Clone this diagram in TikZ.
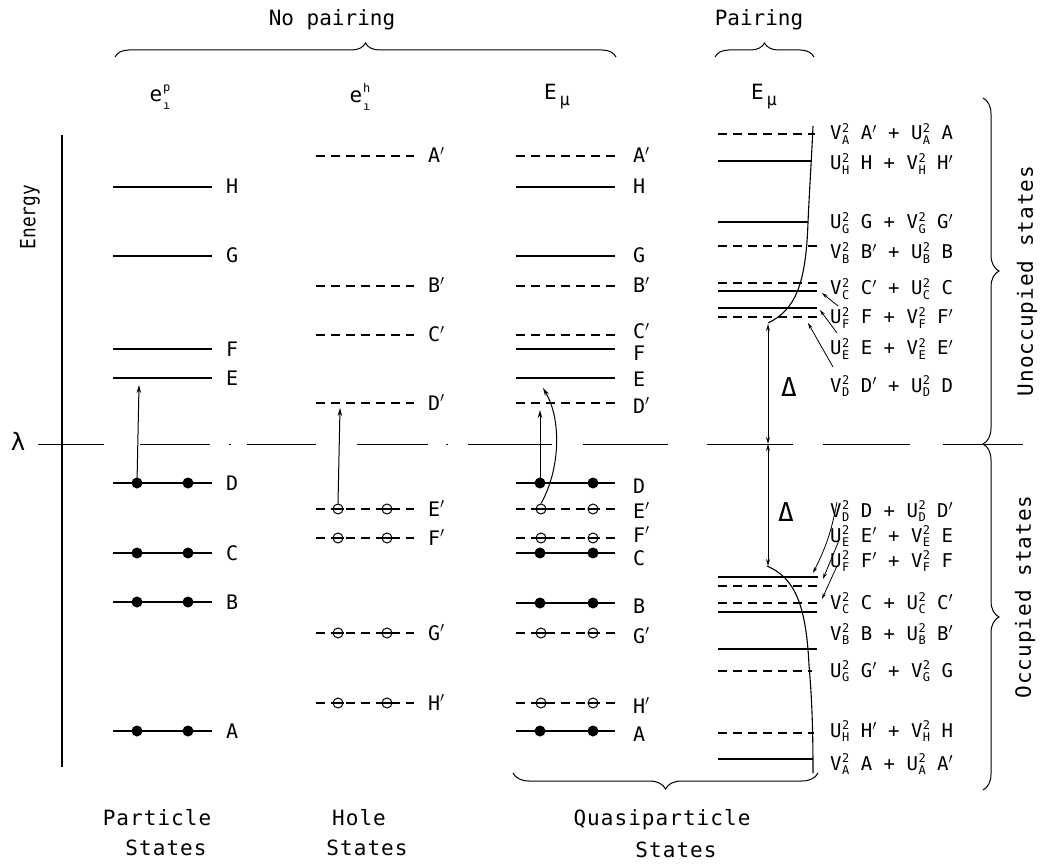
\documentclass[tikz,border=0pt]{standalone}
\usepackage{fontspec}
\setmainfont{DejaVu Sans Mono}
\usetikzlibrary{arrows.meta,decorations.pathreplacing}
\newcommand{\cf}[3]{#1\kern0.5pt\rlap{\raisebox{7.5pt}{\fontsize{12}{12}\selectfont #2}}\raisebox{-4.5pt}{\fontsize{12}{12}\selectfont #3}}
\newcommand{\hd}[2]{e\kern1pt\rlap{\raisebox{10pt}{\fontsize{12}{12}\selectfont #1}}\raisebox{-8pt}{\fontsize{12}{12}\selectfont #2}}
\newcommand{\VV}[1]{\cf{V}{2}{#1}}
\newcommand{\UU}[1]{\cf{U}{2}{#1}}
\newcommand{\Emu}{E\kern3pt\raisebox{-6pt}{\fontsize{17}{17}\selectfont μ}}
\tikzset{
  lev/.style={line width=1.2pt},
  dlev/.style={line width=1.1pt, dash pattern=on 9pt off 6pt},
  full/.style={circle, fill=black, inner sep=0pt, minimum size=11pt},
  hole/.style={circle, draw=black, line width=1pt, inner sep=0pt, minimum size=10pt},
  lab/.style={anchor=base west, inner sep=0pt, font=\fontsize{20}{24}\selectfont},
  plab/.style={anchor=base west, inner sep=0pt, font=\fontsize{19}{22}\selectfont},
  arr/.style={-{Stealth[length=8pt,width=4.5pt]}, line width=1pt},
  sarr/.style={-{Stealth[length=6pt,width=3.5pt]}, line width=0.8pt},
  darr/.style={{Stealth[length=7pt,width=4pt]}-{Stealth[length=7pt,width=4pt]}, line width=1pt},
  brc/.style={decorate, decoration={brace, amplitude=#1}, line width=1pt},
  brc/.default=14pt,
  hdr/.style={inner sep=0pt, font=\fontsize{21}{24}\selectfont},
  btm/.style={inner sep=0pt, font=\fontsize{21}{24}\selectfont\addfontfeature{LetterSpace=5}},
  vt/.style={inner sep=0pt, rotate=90, font=\fontsize{21}{24}\selectfont\addfontfeature{LetterSpace=5}},
  lamline/.style={line width=1pt},
  curve/.style={line width=1.1pt}
}
\begin{document}
\begin{tikzpicture}[x=1pt,y=-1pt]
\useasboundingbox (0,0) rectangle (1041,866);

% energy axis and lambda
\draw[line width=2.2pt] (62,135) coordinate (ax1) -- (62,767) coordinate (ax2);
\node[inner sep=0pt, rotate=90, font=\fontsize{21}{24}\selectfont] (energy) at (30,217) {\scalebox{0.85}[1]{Energy}};
\node[inner sep=0pt, font=\fontsize{24}{26}\selectfont] (lam) at (18,441) {λ};
\foreach \a/\b in {38/104,140/210,247/316,357/428,468/552,583/668,707/793,823/910,943/1023}
  \draw[lamline] (\a,444) -- (\b,444);
\foreach \a in {229,446} \draw[lamline] (\a,444) -- (\a+2,444);

% top headers and braces
\node[hdr] (nop) at (332,20) {No pairing};
\draw[brc] (115,57) coordinate (nb1) -- (616,57) coordinate (nb2);
\node[hdr] (pair) at (759,20) {Pairing};
\draw[brc] (715,57) coordinate (pb1) -- (814,57) coordinate (pb2);
\node[hdr] (h1) at (160,97) {\hd{p}{ı}};
\node[hdr] (h2) at (360,97) {\hd{h}{ı}};
\node[hdr] (h3) at (557,97) {\Emu};
\node[hdr] (h4) at (764,97) {\Emu};

% column 1: particle states
\foreach \y/\l in {187/H,256/G,349/F,378/E,483/D,553/C,602/B,731/A} {
  \draw[lev] (113,\y) -- (212,\y);
  \node[lab] (p\l) at (226,\y+7) {\l};
}
\foreach \y/\l in {483/D,553/C,602/B,731/A} {
  \node[full] (p\l1) at (137,\y) {};
  \node[full] (p\l2) at (188,\y) {};
}
\coordinate (pEt) at (139,385);
\draw[arr] (pD1.center) -- (pEt);

% column 2: hole states
\foreach \y/\l in {156/A,286/B,335/C,403/D,509/E,538/F,633/G,703/H} {
  \draw[dlev] (316,\y) -- (414,\y);
  \node[lab] (h\l) at (428,\y+7) {\l$'$};
}
\foreach \y/\l in {509/E,538/F,633/G,703/H} {
  \node[hole, fill=white] (h\l1) at (338,\y) {};
  \node[hole, fill=white] (h\l2) at (387,\y) {};
  \draw[line width=1.1pt] (h\l1.west) -- (h\l1.east) (h\l2.west) -- (h\l2.east);
}
\coordinate (hDt) at (340,408);
\draw[arr] (hE1.north) -- (hDt);

% column 3: quasiparticle states without pairing
\foreach \y/\l in {187/H,256/G,349/F,378/E,483/D,553/C,603/B,731/A}
  \draw[lev] (516,\y) -- (615,\y);
\foreach \y/\l in {156/A,286/B,335/C,403/D,509/E,538/F,633/G,703/H}
  \draw[dlev] (516,\y) -- (615,\y);
\foreach \y/\l in {156/A$'$,187/H,256/G,286/B$'$,332/C$'$,354/F,379/E,406/D$'$,486/D,511/E$'$,535/F$'$,558/C,606/B,636/G$'$,706/H$'$,734/A}
  \node[lab] (q\y) at (633,\y+7) {\l};
\foreach \y/\l in {483/D,553/C,603/B,731/A} {
  \node[full] (q\l1) at (540,\y) {};
  \node[full] (q\l2) at (593,\y) {};
}
\foreach \y/\l in {509/E,538/F,633/G,703/H} {
  \node[hole, fill=white] (qh\l1) at (541,\y) {};
  \node[hole, fill=white] (qh\l2) at (593,\y) {};
  \draw[line width=1.1pt] (qh\l1.west) -- (qh\l1.east) (qh\l2.west) -- (qh\l2.east);
}
\coordinate (qDt) at (540,410);
\draw[arr] (qD1.center) -- (qDt);
\coordinate (qEt) at (543,388);
\draw[arr] (qhE1.north) .. controls (560,470) and (562,420) .. (qEt);

% column 4: pairing
\foreach \y/\e in {161/812,222/808,291/817,308/817,577/818,612/817,649/817,759/813}
  \draw[lev] (718,\y) -- (\e,\y);
\foreach \y/\e in {134/815,246/817,283/817,317/817,586/817,603/817,671/812,733/814}
  \draw[dlev] (718,\y) -- (\e,\y);
\draw[curve] (768,323) .. controls (795,310) and (806,285) .. (808,222)
  .. controls (810,180) and (812,150) .. (813,126);
\draw[curve] (767,566) .. controls (795,578) and (806,605) .. (809,665)
  .. controls (812,700) and (813,730) .. (813,773);
\coordinate (gTop) at (768,324);
\coordinate (gMid) at (768,444);
\coordinate (gBot) at (768,566);
\draw[darr] (gTop) -- (gMid);
\draw[darr] (gMid) -- (gBot);
\node[inner sep=0pt, font=\fontsize{26}{28}\selectfont] (del1) at (789,387) {Δ};
\node[inner sep=0pt, font=\fontsize{26}{28}\selectfont] (del2) at (786,512) {Δ};

% pairing labels
\node[plab] (r1) at (830,140) {\VV{A} A$'$ + \UU{A} A};
\node[plab] (r2) at (830,170) {\UU{H} H + \VV{H} H$'$};
\node[plab] (r3) at (830,229) {\UU{G} G + \VV{G} G$'$};
\node[plab] (r4) at (830,259) {\VV{B} B$'$ + \UU{B} B};
\node[plab] (r5) at (830,295) {\VV{C} C$'$ + \UU{C} C};
\node[plab] (r6) at (830,324) {\UU{F} F + \VV{F} F$'$};
\node[plab] (r7) at (830,355) {\UU{E} E + \VV{E} E$'$};
\node[plab] (r8) at (830,392) {\VV{D} D$'$ + \UU{D} D};
\node[plab] (s1) at (830,517) {\VV{D} D + \UU{D} D$'$};
\node[plab] (s2) at (830,542) {\UU{E} E$'$ + \VV{E} E};
\node[plab] (s3) at (830,567) {\UU{F} F$'$ + \VV{F} F};
\node[plab] (s4) at (830,609) {\VV{C} C + \UU{C} C$'$};
\node[plab] (s5) at (830,640) {\VV{B} B + \UU{B} B$'$};
\node[plab] (s6) at (830,677) {\UU{G} G$'$ + \VV{G} G};
\node[plab] (s7) at (830,737) {\UU{H} H$'$ + \VV{H} H};
\node[plab] (s8) at (830,770) {\VV{A} A + \UU{A} A$'$};

% leaders
\coordinate (l1s) at (838,306); \coordinate (l1e) at (822,293);
\coordinate (l2s) at (837,333); \coordinate (l2e) at (820,310);
\coordinate (l3s) at (833,367); \coordinate (l3e) at (808,323);
\draw[sarr] (l1s) -- (l1e);
\draw[sarr] (l2s) -- (l2e);
\draw[sarr] (l3s) -- (l3e);
\coordinate (m1s) at (837,502); \coordinate (m1e) at (813,573);
\coordinate (m2s) at (840,538); \coordinate (m2e) at (823,579);
\coordinate (m3s) at (837,566); \coordinate (m3e) at (822,599);
\draw[sarr] (m1s) to[bend left=8] (m1e);
\draw[sarr] (m2s) -- (m2e);
\draw[sarr] (m3s) -- (m3e);

% right braces
\draw[brc=16pt] (983,98) coordinate (ub1) -- (983,444) coordinate (ub2);
\draw[brc=16pt] (983,444) coordinate (ob1) -- (983,790) coordinate (ob2);
\node[vt] (unocc) at (1027,281) {Unoccupied states};
\node[vt] (occ) at (1025,597) {Occupied states};

% bottom
\draw[brc=16pt] (818,773) coordinate (qb1) -- (513,773) coordinate (qb2);
\node[btm] (part) at (157,818) {Particle};
\node[btm] (parts) at (166,848) {States};
\node[btm] (hole) at (359,818) {Hole};
\node[btm] (holes) at (367,848) {States};
\node[btm] (quasi) at (662,820) {Quasiparticle};
\node[btm] (quasis) at (676,850) {States};
\end{tikzpicture}
\end{document}
